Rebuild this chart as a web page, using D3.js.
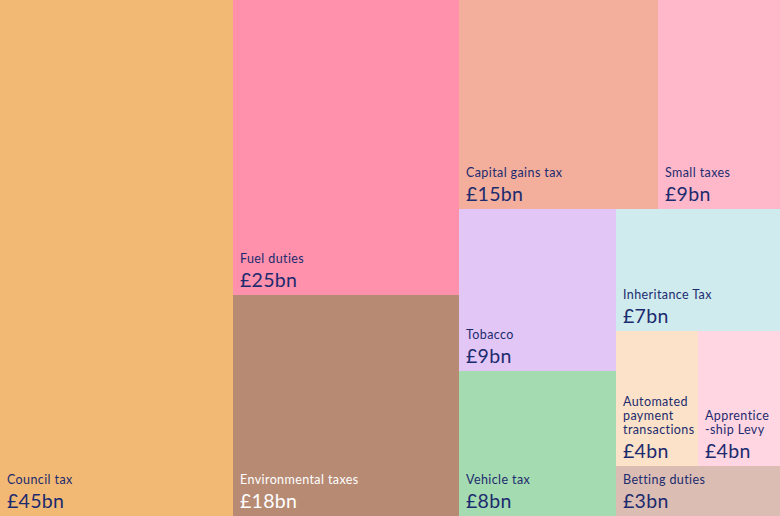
<!DOCTYPE HTML>
<html>
<head>
    <meta charset="utf-8">
    <title>Smaller taxes</title>
    <script src="https://cdn.jsdelivr.net/npm/d3@7"></script>
    <style>
        body { margin: 0; background: #fff; }
        text { font-family: Lato, "Noto Sans", sans-serif; }
        .name { font-size: 12.5px; letter-spacing: 0.4px; }
        .amount { font-size: 19.5px; letter-spacing: 0.3px; }
    </style>
</head>
<body>
    <div id="chart"></div>
    <script>

        var width = 780, height = 516;

        // tax names (\n = line break) and their revenue in £bn
        var names = ["Council tax", "Fuel duties", "Environmental taxes", "Capital gains tax", "Small taxes",
                     "Tobacco", "Vehicle tax", "Inheritance Tax", "Automated\npayment\ntransactions",
                     "Apprentice\n-ship Levy", "Betting duties"];
        var values = [44.5, 24.6, 18.4, 15.4, 9.4, 9.4, 8.4, 7.4, 4.1, 4.1, 3.0];
        var colors = ["#f2b974", "#ff91ad", "#b78a73", "#f3ae9c", "#ffb8ca", "#e2c6f6", "#a4dbb0",
                      "#cfebee", "#fbe2c8", "#ffd6e2", "#dbbdb3"];
        var textColors = ["#1c2b6e", "#1c2b6e", "#ffffff", "#1c2b6e", "#1c2b6e", "#1c2b6e", "#1c2b6e",
                          "#1c2b6e", "#1c2b6e", "#1c2b6e", "#1c2b6e"];

        // grouping of the boxes (indexes into the arrays above)
        var layout = [0, [1, 2], [[3, 4], [[5, 6], [7, [8, 9], 10]]]];

        function build(node) {
            if (Array.isArray(node)) return { children: node.map(build) };
            return { i: node, value: values[node] };
        }

        var root = d3.hierarchy(build(layout))
            .sum(function(d) { return d.children ? 0 : d.value; });

        d3.treemap()
            .size([width, height])
            .tile(d3.treemapSliceDice)
            .round(true)(root);

        var svg = d3.select("#chart").append("svg")
            .attr("width", width)
            .attr("height", height);

        var cells = svg.selectAll("g")
            .data(root.leaves())
            .enter()
                .append("g")
                .attr("transform", function(d) { return "translate(" + d.x0 + "," + d.y0 + ")"; });

        cells.append("rect")
            .attr("width", function(d) { return d.x1 - d.x0; })
            .attr("height", function(d) { return d.y1 - d.y0; })
            .attr("fill", function(d) { return colors[d.data.i]; });

        cells.each(function(d) {
            var g = d3.select(this);
            var h = d.y1 - d.y0;
            var lines = names[d.data.i].split("\n");
            var fill = textColors[d.data.i];

            g.append("text")
                .attr("class", "amount")
                .attr("x", 7)
                .attr("y", h - 8)
                .attr("fill", fill)
                .text("£" + Math.round(values[d.data.i]) + "bn");

            lines.forEach(function(line, k) {
                g.append("text")
                    .attr("class", "name")
                    .attr("x", 7)
                    .attr("y", h - 32 - (lines.length - 1 - k) * 14)
                    .attr("fill", fill)
                    .text(line);
            });
        });

    </script>
</body>
</html>
